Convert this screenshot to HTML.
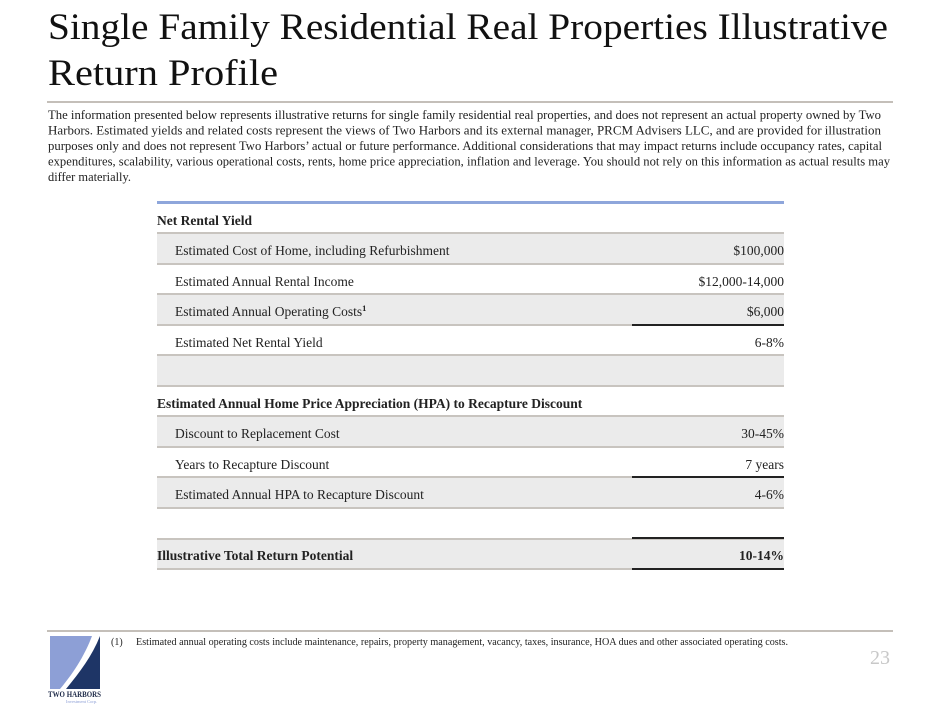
<!DOCTYPE html>
<html><head><meta charset="utf-8"><style>
html,body{margin:0;padding:0;background:#fff;}
svg{display:block;}
text{font-family:"Liberation Serif",serif;}
</style></head><body>
<svg width="940" height="705" viewBox="0 0 940 705" xmlns="http://www.w3.org/2000/svg">
<text x="48" y="39" font-size="37" fill="#111" textLength="840" lengthAdjust="spacingAndGlyphs">Single Family Residential Real Properties Illustrative</text>
<text x="48" y="85" font-size="37" fill="#111" textLength="230" lengthAdjust="spacingAndGlyphs">Return Profile</text>
<rect x="47" y="101" width="846" height="2" fill="#c4bfb9"/>
<g font-size="12.5" fill="#222">
<text x="48" y="119" textLength="833" lengthAdjust="spacingAndGlyphs">The information presented below represents illustrative returns for single family residential real properties, and does not represent an actual property owned by Two</text>
<text x="48" y="134.5" textLength="833" lengthAdjust="spacingAndGlyphs">Harbors. Estimated yields and related costs represent the views of Two Harbors and its external manager, PRCM Advisers LLC, and are provided for illustration</text>
<text x="48" y="150" textLength="834" lengthAdjust="spacingAndGlyphs">purposes only and does not represent Two Harbors’ actual or future performance. Additional considerations that may impact returns include occupancy rates, capital</text>
<text x="48" y="165.5" textLength="842" lengthAdjust="spacingAndGlyphs">expenditures, scalability, various operational costs, rents, home price appreciation, inflation and leverage. You should not rely on this information as actual results may</text>
<text x="48" y="181" textLength="83" lengthAdjust="spacingAndGlyphs">differ materially.</text>
</g>
<rect x="157" y="201" width="627" height="3" fill="#8ea6db"/>
<g fill="#ebebeb">
<rect x="157" y="233" width="627" height="31"/>
<rect x="157" y="294" width="627" height="31"/>
<rect x="157" y="355" width="627" height="31"/>
<rect x="157" y="416" width="627" height="31"/>
<rect x="157" y="477" width="627" height="31"/>
<rect x="157" y="539" width="627" height="30"/>
</g>
<g fill="#c8c4bf">
<rect x="157" y="232" width="627" height="2"/>
<rect x="157" y="263" width="627" height="2"/>
<rect x="157" y="293" width="627" height="2"/>
<rect x="157" y="324" width="627" height="2"/>
<rect x="157" y="354" width="627" height="2"/>
<rect x="157" y="385" width="627" height="2"/>
<rect x="157" y="415" width="627" height="2"/>
<rect x="157" y="446" width="627" height="2"/>
<rect x="157" y="476" width="627" height="2"/>
<rect x="157" y="507" width="627" height="2"/>
<rect x="157" y="538" width="627" height="2"/>
<rect x="157" y="568" width="627" height="2"/>
</g>
<g fill="#222">
<rect x="632" y="324" width="152" height="2"/>
<rect x="632" y="476" width="152" height="2"/>
<rect x="632" y="537" width="152" height="2"/>
<rect x="632" y="568" width="152" height="2"/>
</g>
<g font-size="13.5" fill="#222">
<text x="157" y="225" font-weight="bold">Net Rental Yield</text>
<text x="175" y="255">Estimated Cost of Home, including Refurbishment</text>
<text x="784" y="255" text-anchor="end">$100,000</text>
<text x="175" y="286">Estimated Annual Rental Income</text>
<text x="784" y="286" text-anchor="end">$12,000-14,000</text>
<text x="175" y="316">Estimated Annual Operating Costs<tspan font-size="8.5" dy="-5" font-weight="bold">1</tspan></text>
<text x="784" y="316" text-anchor="end">$6,000</text>
<text x="175" y="347">Estimated Net Rental Yield</text>
<text x="784" y="347" text-anchor="end">6-8%</text>
<text x="157" y="408" font-weight="bold">Estimated Annual Home Price Appreciation (HPA) to Recapture Discount</text>
<text x="175" y="438">Discount to Replacement Cost</text>
<text x="784" y="438" text-anchor="end">30-45%</text>
<text x="175" y="469">Years to Recapture Discount</text>
<text x="784" y="469" text-anchor="end">7 years</text>
<text x="175" y="499">Estimated Annual HPA to Recapture Discount</text>
<text x="784" y="499" text-anchor="end">4-6%</text>
<text x="157" y="560" font-weight="bold">Illustrative Total Return Potential</text>
<text x="784" y="560" text-anchor="end" font-weight="bold">10-14%</text>
</g>
<rect x="47" y="630" width="846" height="2" fill="#c4bfb9"/>
<text x="111" y="645" font-size="10" fill="#222">(1)</text>
<text x="136" y="645" font-size="10" fill="#222" textLength="652" lengthAdjust="spacingAndGlyphs">Estimated annual operating costs include maintenance, repairs, property management, vacancy, taxes, insurance, HOA dues and other associated operating costs.</text>
<text x="890" y="664" font-size="20" fill="#c8c8c8" text-anchor="end">23</text>
<path d="M50 636 L92 636 C86 652 76 670 60 689 L50 689 Z" fill="#8d9fd6"/>
<path d="M100 636 L100 689 L66 689 C80 672 92 656 100 636 Z" fill="#1e3566"/>
<text x="48" y="697" font-size="8.5" font-family="Liberation Sans" fill="#1e2a48" font-weight="bold" textLength="53" lengthAdjust="spacingAndGlyphs">TWO HARBORS</text>
<text x="66" y="703" font-size="4.5" fill="#8d9fd6">Investment Corp.</text>
</svg>
</body></html>
